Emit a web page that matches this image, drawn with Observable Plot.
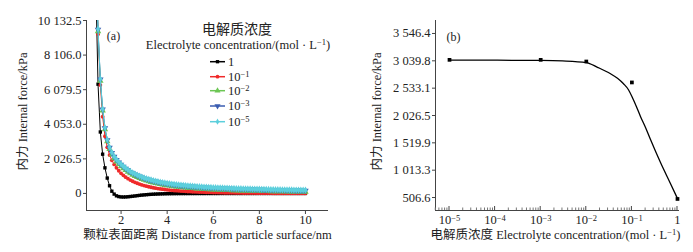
<!DOCTYPE html>
<html><head><meta charset="utf-8">
<script src="https://cdn.jsdelivr.net/npm/d3@7"></script>
<script src="https://cdn.jsdelivr.net/npm/@observablehq/plot@0.6"></script>
<style>
html,body{margin:0;padding:0;background:#fff;}
#wrap{display:flex;width:693px;height:252px;overflow:hidden;}
#wrap svg{display:block;}
</style></head><body><div id="wrap"></div>
<script>
// ---------- Panel (a) data ----------
const distance = [0.9,
 1.0,1.1,1.2,1.3,1.4,1.5,1.6,1.7,1.8,1.9,
 2.0,2.1,2.2,2.3,2.4,2.5,2.6,2.7,2.8,2.9,
 3.0,3.1,3.2,3.3,3.4,3.5,3.6,3.7,3.8,3.9,
 4.0,4.1,4.2,4.3,4.4,4.5,4.6,4.7,4.8,4.9,
 5.0,5.1,5.2,5.3,5.4,5.5,5.6,5.7,5.8,5.9,
 6.0,6.1,6.2,6.3,6.4,6.5,6.6,6.7,6.8,6.9,
 7.0,7.1,7.2,7.3,7.4,7.5,7.6,7.7,7.8,7.9,
 8.0,8.1,8.2,8.3,8.4,8.5,8.6,8.7,8.8,8.9,
 9.0,9.1,9.2,9.3,9.4,9.5,9.6,9.7,9.8,9.9,
 10.0];
const force_1 = [12500,
 6400,3600,2300,1500,900,450,130,-40,-140,-185,
 -205,-210,-205,-195,-180,-165,-148,-130,-113,-98,
 -85,-73,-62,-53,-45,-38,-32,-27,-23,-19,
 -16,-14,-12,-10,-9,-8,-7,-7,-6,-6,
 -5,-5,-5,-4,-4,-4,-4,-3,-3,-3,
 -3,-3,-3,-2,-2,-2,-2,-2,-2,-2,
 -2,-2,-2,-2,-2,-2,-2,-2,-2,-2,
 -1,-1,-1,-1,-1,-1,-1,-1,-1,-1,
 -1,-1,-1,-1,-1,-1,-1,-1,-1,-1,
 -1];
const force_1e1 = [13800,
 9330,6350,4500,3350,2700,2250,1940,1700,1500,1330,
 1180,1060,955,865,785,715,652,596,546,501,
 460,424,391,361,334,309,287,266,247,230,
 214,199,185,173,161,150,140,131,122,114,
 107,100,94,88,82,77,72,68,64,60,
 56,53,50,47,44,41,39,37,35,33,
 31,29,27,26,24,23,22,20,19,18,
 17,16,15,14,13,13,12,11,11,10,
 10,9,9,8,8,7,7,7,6,6,
 6];
const force_1e2 = [14200,
 9500,6600,4850,3750,3050,2590,2280,2050,1870,1720,
 1590,1470,1360,1260,1170,1090,1020,955,895,840,
 790,745,705,668,633,600,570,542,516,492,
 470,450,431,413,397,381,367,353,340,328,
 316,305,295,285,276,267,259,251,243,236,
 229,222,216,210,204,199,193,188,183,179,
 174,170,166,162,158,155,151,148,145,142,
 139,136,133,131,128,126,123,121,119,117,
 115,113,111,109,107,105,103,102,100,98,
 97];
const force_1e3 = [14400,
 9600,6680,4930,3830,3130,2680,2380,2150,1970,1820,
 1690,1570,1460,1360,1270,1190,1120,1055,995,940,
 890,845,805,768,733,700,670,642,616,592,
 570,550,531,513,497,481,467,453,440,428,
 416,405,394,384,374,365,356,348,340,332,
 325,318,311,305,299,293,287,282,276,271,
 266,261,257,252,248,244,240,236,232,228,
 225,221,218,214,211,208,205,202,199,196,
 193,190,188,185,183,180,178,175,173,171,
 168];
const force_1e5 = [14500,
 9630,6700,4950,3850,3150,2700,2400,2170,1990,1840,
 1710,1590,1480,1380,1290,1210,1140,1075,1015,960,
 910,865,825,788,753,720,690,662,636,612,
 590,570,551,533,517,501,487,473,460,448,
 436,425,414,404,394,385,376,368,360,352,
 345,338,331,325,319,313,307,302,296,291,
 286,281,277,272,268,264,260,256,252,248,
 245,241,238,234,231,228,225,222,219,216,
 213,210,208,205,203,200,198,195,193,191,
 188];
const seriesLabels = ["1", "10{−1}", "10{−2}", "10{−3}", "10{−5}"];
const seriesColors = ["#000000", "#f02a2a", "#6cc654", "#3a5cb0", "#5ccfdc"];
const seriesSymbols = ["square", "circle", "triangle", "triangle", "diamond"];
const seriesRotate = [0, 0, 0, 180, 0];
const xTicksA = [2, 4, 6, 8, 10];
const yTicksA = [0, 2026.5, 4053.0, 6079.5, 8106.0, 10132.5];
const xDomA = [0.5, 11];
const yDomA = [-1000, 10132.5];

// ---------- Panel (b) data ----------
const concentration = [1e-5, 1e-3, 1e-2, 1e-1, 1];
const forceB = [3058, 3058, 3027, 2639, 480];
const fitConc = [1e-5, 1e-4, 1e-3, 3e-3, 1e-2, 0.0176, 0.034, 0.0483, 0.0655, 0.0841, 0.103, 0.126, 0.155, 0.2, 0.256, 0.424, 0.70, 1];
const fitForce = [3052, 3051, 3047, 3038, 3008, 2920, 2800, 2716, 2615, 2504, 2356, 2190, 2005, 1801, 1580, 1154, 766, 488];
const xTicksB = [1e-5, 1e-4, 1e-3, 1e-2, 1e-1, 1];
const xTickLabelsB = ["10{−5}", "10{−4}", "10{−3}", "10{−2}", "10{−1}", "1"];
const yTicksB = [506.6, 1013.3, 1519.9, 2026.5, 2533.1, 3039.8, 3546.4];
const xDomB = [4.93e-6, 1.107];
const yDomB = [266, 3787];

const FONT = "'Liberation Serif','Times New Roman','Noto Sans CJK SC',serif";
const fmt = d => d === 0 ? "0" : d3.format(",.1f")(d).replace(/,/g, " ");

// superscript helper: "abc{exp}def"
function supify(el) {
  const s = el.textContent;
  if (!s.includes("{")) return;
  const parts = s.split(/(\{[^}]*\})/);
  el.textContent = "";
  let raised = false;
  for (const p of parts) {
    if (!p) continue;
    const t = d3.select(el).append("tspan");
    if (p.startsWith("{")) {
      t.attr("dy", "-0.42em").attr("font-size", "0.68em").text(p.slice(1, -1));
      raised = true;
    } else {
      if (raised) t.attr("dy", "0.29em");
      raised = false;
      t.text(p);
    }
  }
}

const wrap = document.getElementById("wrap");

// ---------- Panel (a) ----------
const marksA = [
  Plot.ruleX([xDomA[0]], {stroke: "#444"}),
  Plot.ruleY([yDomA[0]], {stroke: "#444"}),
  Plot.axisX({ticks: xTicksA, tickSize: 4, tickPadding: 1, label: null, stroke: "#444", fontSize: 12.5}),
  Plot.axisY({ticks: yTicksA, tickSize: 3, tickPadding: 2, tickFormat: fmt, label: null, stroke: "#444", fontSize: 12.5})
];
[force_1, force_1e1, force_1e2, force_1e3, force_1e5].forEach((arr, i) => {
  const data = distance.map((d, j) => ({x: d, y: arr[j]}));
  marksA.push(Plot.line(data, {x: "x", y: "y", stroke: seriesColors[i], strokeWidth: 1, clip: true}));
  marksA.push(Plot.dot(data, {x: "x", y: "y", symbol: seriesSymbols[i], fill: seriesColors[i], stroke: "none",
    r: seriesSymbols[i] === "triangle" ? 2.4 : seriesSymbols[i] === "diamond" ? 2.2 : 1.9, rotate: seriesRotate[i], clip: true}));
});
marksA.push(Plot.text(["颗粒表面距离 Distance from particle surface/nm"], {frameAnchor: "bottom", dy: 28, fontSize: 12.5, textAnchor: "middle"}));
marksA.push(Plot.text(["内力 Internal force/kPa"], {frameAnchor: "left", dx: -64, dy: -4, rotate: -90, fontSize: 12.5, textAnchor: "middle"}));
marksA.push(Plot.text(["(a)"], {frameAnchor: "top-left", dx: 27, dy: 11, fontSize: 12, textAnchor: "middle"}));

const svgA = Plot.plot({
  width: 350, height: 252,
  marginLeft: 86, marginRight: 22, marginTop: 20, marginBottom: 42,
  style: {fontFamily: FONT, fontSize: "12.5px", background: "white", color: "#222"},
  x: {domain: xDomA},
  y: {domain: yDomA},
  marks: marksA
});
wrap.appendChild(svgA);

// legend for panel (a)
{
  const g = d3.select(svgA).append("g").attr("font-family", FONT).attr("fill", "#222");
  g.append("text").attr("x", 237).attr("y", 34).attr("text-anchor", "middle").attr("font-size", 14).text("电解质浓度");
  g.append("text").attr("x", 238).attr("y", 49).attr("text-anchor", "middle").attr("font-size", 12.5)
    .text("Electrolyte concentration/(mol · L{−1})").each(function () { supify(this); });
  const rows = [61.7, 76.7, 90.7, 106, 121.7];
  const symTypes = [d3.symbolSquare, d3.symbolCircle, d3.symbolTriangle, d3.symbolTriangle, d3.symbolDiamond];
  rows.forEach((y, i) => {
    g.append("line").attr("x1", 210).attr("x2", 225).attr("y1", y).attr("y2", y)
      .attr("stroke", seriesColors[i]).attr("stroke-width", 1.5);
    g.append("path").attr("d", d3.symbol(symTypes[i], i === 2 || i === 3 ? 16 : 11)())
      .attr("transform", `translate(217.5,${y})${seriesRotate[i] ? " rotate(180)" : ""}`)
      .attr("fill", seriesColors[i]);
    g.append("text").attr("x", 228).attr("y", y + 4).attr("font-size", 12.5).attr("text-anchor", "start")
      .text(seriesLabels[i]).each(function () { supify(this); });
  });
}

// ---------- Panel (b) ----------
const xMinorB = [];
for (let k = -6; k <= 0; k++) for (let m = 2; m <= 9; m++) {
  const v = m * Math.pow(10, k);
  if (v > xDomB[0] && v < xDomB[1]) xMinorB.push(v);
}
const svgB = Plot.plot({
  width: 343, height: 252,
  marginLeft: 85, marginRight: 14, marginTop: 20, marginBottom: 42,
  style: {fontFamily: FONT, fontSize: "12.5px", background: "white", color: "#222"},
  x: {type: "log", domain: xDomB},
  y: {domain: yDomB},
  marks: [
    Plot.ruleX([xDomB[0]], {stroke: "#444"}),
    Plot.ruleY([yDomB[0]], {stroke: "#444"}),
    Plot.axisX({ticks: xTicksB, tickSize: 0, tickPadding: 5, label: null, fontSize: 12.5,
      tickFormat: d => xTickLabelsB[xTicksB.findIndex(t => Math.abs(Math.log10(t) - Math.log10(d)) < 1e-6)]}),
    Plot.axisY({ticks: yTicksB, tickSize: 3, tickPadding: 2, tickFormat: fmt, label: null, stroke: "#444", fontSize: 12.5}),
    Plot.line(fitConc.map((c, i) => ({x: c, y: fitForce[i]})), {x: "x", y: "y", curve: "monotone-x", stroke: "#000", strokeWidth: 1.3}),
    Plot.dot(concentration.map((c, i) => ({x: c, y: forceB[i]})), {x: "x", y: "y", symbol: "square", fill: "#000", r: 2.1}),
    Plot.text(["电解质浓度 Electrolyte concentration/(mol · L{−1})"], {frameAnchor: "bottom", dy: 28, dx: -2, fontSize: 12.5, textAnchor: "middle"}),
    Plot.text(["内力 Internal force/kPa"], {frameAnchor: "left", dx: -59, dy: -4, rotate: -90, fontSize: 12.5, textAnchor: "middle"}),
    Plot.text(["(b)"], {frameAnchor: "top-left", dx: 18, dy: 12, fontSize: 12, textAnchor: "middle"})
  ]
});
wrap.appendChild(svgB);
d3.select(svgB).selectAll("text").each(function () { supify(this); });
// inward tick marks on the log axis (major and minor), positioned through Plot's x scale
{
  const xs = svgB.scale("x");
  const yBottom = 252 - 42;
  const g = d3.select(svgB).append("g").attr("stroke", "#444").attr("stroke-width", 1);
  xTicksB.forEach(v => { const px = xs.apply(v); g.append("line").attr("x1", px).attr("x2", px).attr("y1", yBottom).attr("y2", yBottom - 4); });
  xMinorB.forEach(v => { const px = xs.apply(v); g.append("line").attr("x1", px).attr("x2", px).attr("y1", yBottom).attr("y2", yBottom - 2.5).attr("stroke", "#777"); });
}
</script>
</body></html>
